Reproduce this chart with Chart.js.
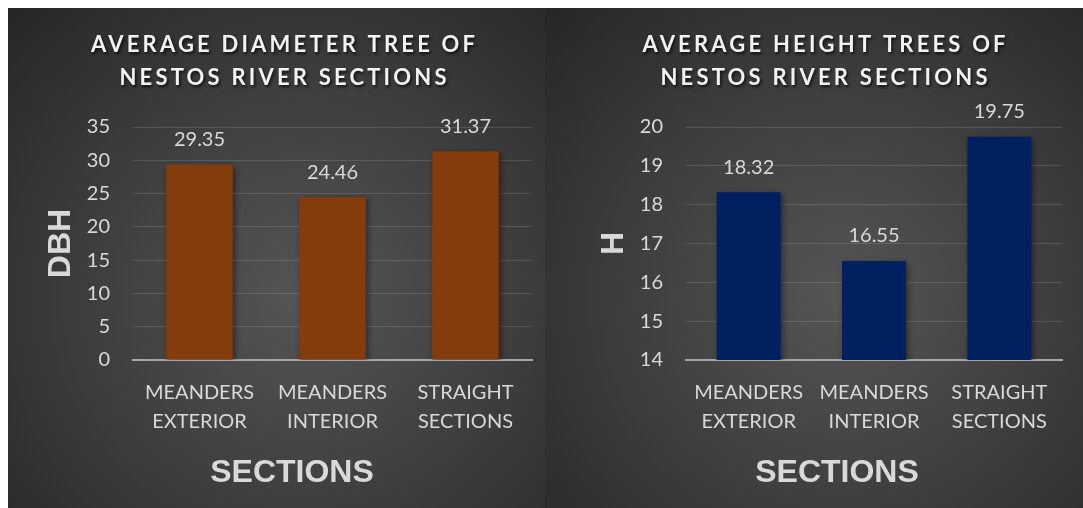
<!DOCTYPE html>
<html>
<head>
<meta charset="utf-8">
<script src="https://cdn.jsdelivr.net/npm/chart.js@4"></script>
<style>
  body { margin: 0; background: #ffffff; width: 1083px; height: 508px; overflow: hidden; }
  .panel { position: absolute; top: 8px; height: 500px;
           background: radial-gradient(ellipse farthest-corner at 55% 58%, #555555 0%, #3c3c3c 55%, #262626 100%); }
  #leftPanel { left: 8px; width: 537px; }
  #rightPanel { left: 545px; width: 538px; }
  canvas { display: block; }
</style>
</head>
<body>
<div class="panel" id="leftPanel"><canvas id="dbhGraph" width="537" height="500"></canvas></div>
<div class="panel" id="rightPanel"><canvas id="heightGraph" width="538" height="500"></canvas></div>
<script>
// data
const categories = [['MEANDERS', 'EXTERIOR'], ['MEANDERS', 'INTERIOR'], ['STRAIGHT', 'SECTIONS']];
const dbhValues = [29.35, 24.46, 31.37];
const heightValues = [18.32, 16.55, 19.75];
const dbhTicks = [0, 5, 10, 15, 20, 25, 30, 35];
const heightTicks = [14, 15, 16, 17, 18, 19, 20];
const dbhTitle = ['AVERAGE DIAMETER TREE OF', 'NESTOS RIVER SECTIONS'];
const heightTitle = ['AVERAGE HEIGHT TREES OF', 'NESTOS RIVER SECTIONS'];

Chart.defaults.font.family = 'Lato';
Chart.defaults.color = '#d9d9d9';

// titles, axis titles, value labels and bar shadow
const panelText = {
    id: 'panelText',
    beforeDatasetsDraw(chart) {
        const ctx = chart.ctx;
        ctx.save();
        ctx.shadowColor = 'rgba(0,0,0,0.45)';
        ctx.shadowBlur = 6;
        ctx.shadowOffsetX = 2;
        ctx.shadowOffsetY = 2;
    },
    afterDatasetsDraw(chart) {
        chart.ctx.restore();
    },
    afterDraw(chart, args, o) {
        const ctx = chart.ctx;
        const area = chart.chartArea;

        // value labels
        ctx.save();
        ctx.font = '20px Lato';
        ctx.fillStyle = '#d9d9d9';
        ctx.textAlign = 'center';
        ctx.textBaseline = 'middle';
        const meta = chart.getDatasetMeta(0);
        meta.data.forEach(function(bar, i) {
            ctx.fillText(chart.data.datasets[0].data[i].toFixed(2), bar.x, bar.y - 25);
        });
        ctx.restore();

        // chart title
        ctx.save();
        ctx.font = 'bold 22px Lato';
        ctx.letterSpacing = '3.2px';
        ctx.fillStyle = '#f2f2f2';
        ctx.textAlign = 'center';
        ctx.textBaseline = 'middle';
        ctx.shadowColor = 'rgba(0,0,0,0.7)';
        ctx.shadowBlur = 3;
        ctx.shadowOffsetX = 1.5;
        ctx.shadowOffsetY = 2;
        o.title.forEach(function(line, i) {
            ctx.fillText(line, o.titleX + 1.6, 37 + i * 33);
        });
        ctx.restore();

        // axis titles
        ctx.save();
        ctx.font = 'bold 32px "Liberation Sans"';
        ctx.fillStyle = '#d9d9d9';
        ctx.textAlign = 'center';
        ctx.textBaseline = 'middle';
        ctx.fillText('SECTIONS', o.xTitleX, 465);
        ctx.translate(o.yTitleX, (area.top + area.bottom) / 2);
        ctx.rotate(-Math.PI / 2);
        ctx.fillText(o.yTitle, 0, 1);
        ctx.restore();
    }
};

function makeChart(id, values, ticks, color, o) {
    return new Chart(document.getElementById(id), {
        type: 'bar',
        data: {
            labels: categories,
            datasets: [{
                data: values,
                backgroundColor: color,
                borderWidth: 0,
                categoryPercentage: 1,
                barPercentage: o.barPct
            }]
        },
        options: {
            responsive: false,
            animation: false,
            layout: { padding: { top: 119, right: o.padRight, left: 0, bottom: 0 } },
            plugins: {
                legend: { display: false },
                tooltip: { enabled: false },
                panelText: o
            },
            scales: {
                x: {
                    grid: { display: false },
                    border: { color: '#a6a6a6', width: 2 },
                    ticks: {
                        color: '#d9d9d9',
                        font: { size: 20, lineHeight: 1.45 },
                        padding: 10,
                        maxRotation: 0
                    },
                    afterFit: function(scale) { scale.height = 148; }
                },
                y: {
                    min: ticks[0],
                    max: ticks[ticks.length - 1],
                    afterBuildTicks: function(scale) {
                        scale.ticks = ticks.map(function(v) { return { value: v }; });
                    },
                    grid: { color: 'rgba(255,255,255,0.13)', lineWidth: 1, drawTicks: false },
                    border: { display: false },
                    ticks: { color: '#d9d9d9', font: { size: 20 }, padding: 23 },
                    afterFit: function(scale) { scale.width = o.axisWidth; }
                }
            }
        },
        plugins: [panelText]
    });
}

const dbhChart = makeChart('dbhGraph', dbhValues, dbhTicks, '#843c0c', {
    title: dbhTitle, titleX: 275, xTitleX: 284, yTitle: 'DBH', yTitleX: 52,
    axisWidth: 125, padRight: 13, barPct: 0.5
});
const heightChart = makeChart('heightGraph', heightValues, heightTicks, '#002060', {
    title: heightTitle, titleX: 279, xTitleX: 292, yTitle: 'H', yTitleX: 68,
    axisWidth: 141, padRight: 21, barPct: 0.51
});
</script>
</body>
</html>
